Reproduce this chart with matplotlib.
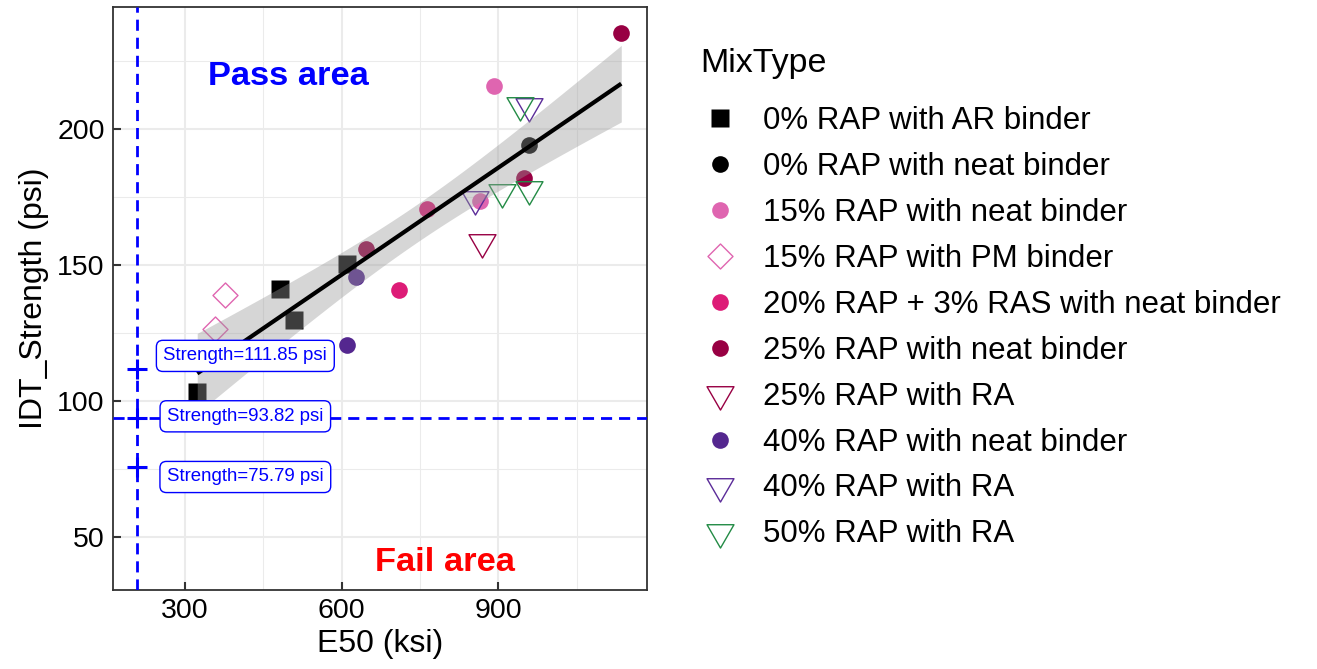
import numpy as np
import matplotlib
matplotlib.use('Agg')
import matplotlib.pyplot as plt
from matplotlib.path import Path

plt.rcParams['font.family'] = ['Liberation Sans', 'DejaVu Sans']

# E50 (ksi) and IDT strength (psi) per mix type
ar0_e50 = [324, 482, 510, 611]
ar0_idt = [103.3, 141.1, 129.6, 150.3]
neat0_e50 = [959]
neat0_idt = [194.0]
neat15_e50 = [892, 865]
neat15_idt = [215.7, 173.4]
pm15_e50 = [358, 377]
pm15_idt = [126.4, 139.0]
ras20_e50 = [710, 764]
ras20_idt = [140.7, 170.5]
neat25_e50 = [646, 949, 1135]
neat25_idt = [155.8, 181.8, 235.1]
ra25_e50 = [869]
ra25_idt = [158.2]
neat40_e50 = [610, 628]
neat40_idt = [120.4, 145.4]
ra40_e50 = [855, 959]
ra40_idt = [174.3, 208.2]
ra50_e50 = [907, 941, 959]
ra50_idt = [176.9, 208.8, 177.9]

mix_labels = ['0% RAP with AR binder', '0% RAP with neat binder',
              '15% RAP with neat binder', '15% RAP with PM binder',
              '20% RAP + 3% RAS with neat binder', '25% RAP with neat binder',
              '25% RAP with RA', '40% RAP with neat binder',
              '40% RAP with RA', '50% RAP with RA']

# threshold lines and the three strength levels
e50_limit = 208
strength_levels = [111.85, 93.82, 75.79]
label_e50 = 416
label_idt = [116.5, 94.3, 72.0]

tri_down = Path([(-0.866, 0.5), (0.866, 0.5), (0, -1), (-0.866, 0.5)], closed=True)
diamond = Path([(0, 1), (1, 0), (0, -1), (-1, 0), (0, 1)], closed=True)

groups = [
    (ar0_e50, ar0_idt, 's', '#000000', True, 13.5),
    (neat0_e50, neat0_idt, 'o', '#000000', True, 12),
    (neat15_e50, neat15_idt, 'o', '#DF65B0', True, 12),
    (pm15_e50, pm15_idt, diamond, '#DF65B0', False, 18),
    (ras20_e50, ras20_idt, 'o', '#DD1C77', True, 12),
    (neat25_e50, neat25_idt, 'o', '#980043', True, 12),
    (ra25_e50, ra25_idt, tri_down, '#980043', False, 22.4),
    (neat40_e50, neat40_idt, 'o', '#54278F', True, 12),
    (ra40_e50, ra40_idt, tri_down, '#5B2C99', False, 22.4),
    (ra50_e50, ra50_idt, tri_down, '#238B45', False, 22.4),
]

fig = plt.figure(figsize=(13.17, 6.69), dpi=100)
ax = fig.add_axes([0.0858, 0.1188, 0.4055, 0.8703])

handles = []
for (xs, ys, mk, col, filled, ms), lab in zip(groups, mix_labels):
    if filled:
        h, = ax.plot(xs, ys, ls='none', marker=mk, ms=ms, mfc=col, mec='none',
                     label=lab, zorder=3)
    else:
        h, = ax.plot(xs, ys, ls='none', marker=mk, ms=ms, mfc='none', mec=col,
                     mew=1.0, label=lab, zorder=3)
    handles.append(h)

# linear fit with 95% confidence band
all_e = np.concatenate([g[0] for g in groups]).astype(float)
all_s = np.concatenate([g[1] for g in groups]).astype(float)
n = len(all_e)
slope, icept = np.polyfit(all_e, all_s, 1)
resid = all_s - (slope * all_e + icept)
se = np.sqrt(np.sum(resid ** 2) / (n - 2))
xx = np.linspace(all_e.min(), all_e.max(), 80)
yy = slope * xx + icept
t_crit = 2.086
band = t_crit * se * np.sqrt(1 / n + (xx - all_e.mean()) ** 2 / np.sum((all_e - all_e.mean()) ** 2))
ax.fill_between(xx, yy - band, yy + band, color='#999999', alpha=0.4, lw=0, zorder=4)
ax.plot(xx, yy, color='black', lw=3, zorder=5, solid_capstyle='butt')

# threshold lines
ax.axvline(e50_limit, color='blue', lw=2, ls=(0, (4, 2.5)), zorder=6)
ax.axhline(strength_levels[1], color='blue', lw=2, ls=(0, (4, 2.5)), zorder=6)
ax.plot([e50_limit] * 3, strength_levels, ls='none', marker='+', ms=14.5, mew=2.2,
        color='blue', zorder=7)
for lev, ly in zip(strength_levels, label_idt):
    ax.text(label_e50, ly, 'Strength={:.2f} psi'.format(lev), color='blue', fontsize=13.4,
            ha='center', va='center', zorder=8,
            bbox=dict(boxstyle='round,pad=0.38,rounding_size=0.35', fc='white', ec='blue', lw=1))

ax.text(498, 219.3, 'Pass area', color='blue', fontsize=24.8, fontweight='bold',
        ha='center', va='center', zorder=8)
ax.text(798, 40.4, 'Fail area', color='red', fontsize=24.8, fontweight='bold',
        ha='center', va='center', zorder=8)

ax.set_xlim(162.9, 1184.3)
ax.set_ylim(30.65, 244.6)
ax.set_xticks([300, 600, 900])
ax.set_yticks([50, 100, 150, 200])
ax.set_xticks([450, 750, 1050], minor=True)
ax.set_yticks([75, 125, 175, 225], minor=True)
ax.grid(which='major', color='#EBEBEB', lw=1.5, zorder=0)
ax.grid(which='minor', color='#EBEBEB', lw=0.75, zorder=0)
ax.set_axisbelow(True)
ax.tick_params(which='major', direction='in', length=6, width=1.5, color='#333333',
               labelsize=20.5, pad=6)
ax.tick_params(which='minor', length=0)
for sp in ax.spines.values():
    sp.set_color('#333333')
    sp.set_linewidth(1.3)
ax.set_xlabel('E50 (ksi)', fontsize=23, labelpad=4)
ax.set_ylabel('IDT_Strength (psi)', fontsize=23, labelpad=6)

fig.text(700 / 1317, 1 - 72 / 669, 'MixType', fontsize=24.5, ha='left', va='baseline')
ax.legend(handles=handles, loc='upper left',
          bbox_to_anchor=(704 / 1317, 1 - 106 / 669), bbox_transform=fig.transFigure,
          frameon=False, fontsize=22.5, handlelength=1.0,
          handletextpad=0.875, labelspacing=0.51, borderpad=0, borderaxespad=0,
          numpoints=1)

fig.savefig('out.png', dpi=100)
